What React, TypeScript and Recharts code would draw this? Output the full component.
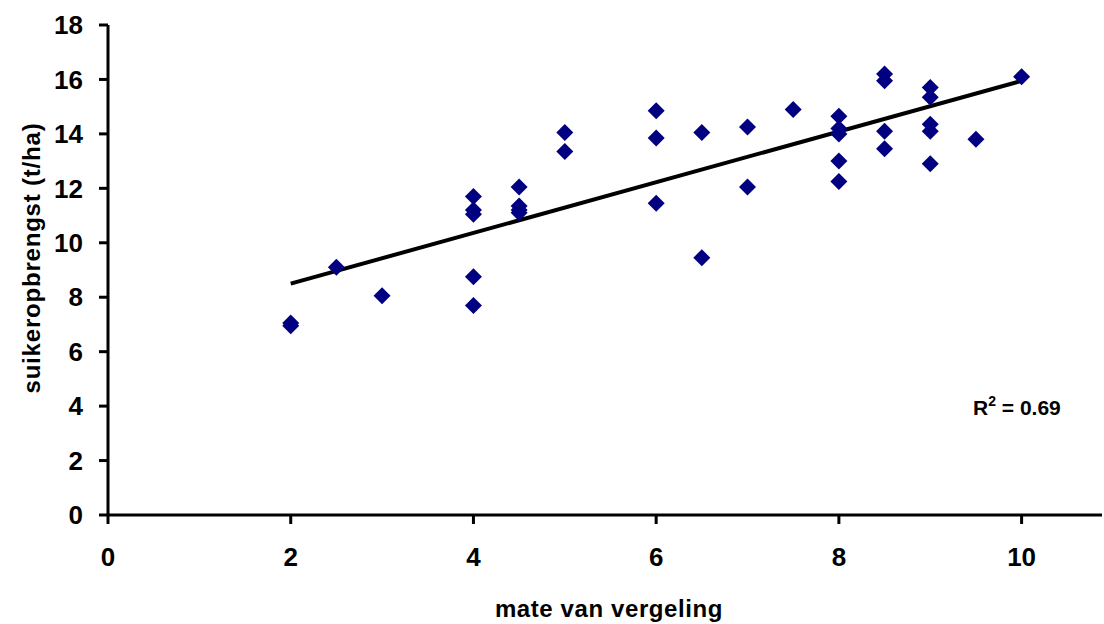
import { ScatterChart, Scatter, XAxis, YAxis, ReferenceLine } from 'recharts';

// mate van vergeling (x) vs suikeropbrengst in t/ha (y)
const vergeling = [2, 2, 2.5, 3, 4, 4, 4, 4, 4, 4.5, 4.5, 4.5, 4.5, 5, 5, 6, 6, 6, 6.5, 6.5, 7, 7, 7.5, 8, 8, 8, 8, 8, 8.5, 8.5, 8.5, 8.5, 9, 9, 9, 9, 9, 9.5, 10];
const suiker = [7.05, 6.95, 9.1, 8.05, 11.7, 11.2, 11.05, 8.75, 7.7, 12.05, 11.35, 11.2, 11.1, 14.05, 13.35, 14.85, 13.85, 11.45, 14.05, 9.45, 14.25, 12.05, 14.9, 14.65, 14.2, 14.0, 13.0, 12.25, 16.2, 15.95, 14.1, 13.45, 15.7, 15.35, 14.35, 14.1, 12.9, 13.8, 16.1];

// trend line end points
const trendStart = { x: 2, y: 8.5 };
const trendEnd = { x: 10, y: 15.95 };

const xTicks = [0, 2, 4, 6, 8, 10];
const yTicks = [0, 2, 4, 6, 8, 10, 12, 14, 16, 18];

const points = vergeling.map((x, i) => ({ x, y: suiker[i] }));

const font = "'Liberation Sans', Arial, sans-serif";
const tickStyle = { fill: '#000', fontSize: 26, fontWeight: 700, fontFamily: font };
const lineStyle = { stroke: '#000', strokeWidth: 3 };

const Diamond = (props: any) => {
    const { cx, cy } = props;
    const r = 8.5;
    return (
        <polygon
            points={`${cx},${cy - r} ${cx + r},${cy} ${cx},${cy + r} ${cx - r},${cy}`}
            fill="#000080"
        />
    );
};

export default function App() {
    return (
        <div style={{ position: 'absolute', left: 0, top: 0, width: 1104, height: 624, background: '#fff' }}>
            <ScatterChart width={1104} height={624} margin={{ top: 25, right: 2, left: 48, bottom: 59 }}>
                <XAxis
                    type="number"
                    dataKey="x"
                    domain={[0, 10.88]}
                    ticks={xTicks}
                    tick={tickStyle}
                    tickSize={9}
                    tickMargin={24}
                    tickLine={lineStyle}
                    axisLine={lineStyle}
                    height={50}
                    label={{
                        content: () => (
                            <text x={609} y={617} textAnchor="middle" fontFamily={font} fontSize={24} fontWeight={700} letterSpacing={0.6}>
                                mate van vergeling
                            </text>
                        ),
                    }}
                />
                <YAxis
                    type="number"
                    dataKey="y"
                    domain={[0, 18]}
                    ticks={yTicks}
                    tick={tickStyle}
                    tickSize={9}
                    tickMargin={16}
                    tickLine={lineStyle}
                    axisLine={lineStyle}
                    width={60}
                    label={{
                        content: () => (
                            <text
                                x={40}
                                y={258}
                                transform="rotate(-90, 40, 258)"
                                textAnchor="middle"
                                fontFamily={font}
                                fontSize={24}
                                fontWeight={700}
                                letterSpacing={0.8}
                            >
                                suikeropbrengst (t/ha)
                            </text>
                        ),
                    }}
                />
                <Scatter data={points} shape={<Diamond />} isAnimationActive={false} />
                <ReferenceLine segment={[trendStart, trendEnd]} stroke="#000" strokeWidth={4} />
            </ScatterChart>
            <svg width={1104} height={624} style={{ position: 'absolute', left: 0, top: 0, pointerEvents: 'none' }}>
                <text x={973} y={415} fontFamily={font} fontSize={21} fontWeight={700}>
                    R
                    <tspan dy={-9} fontSize={14}>2</tspan>
                    <tspan dy={9}> = 0.69</tspan>
                </text>
            </svg>
        </div>
    );
}
